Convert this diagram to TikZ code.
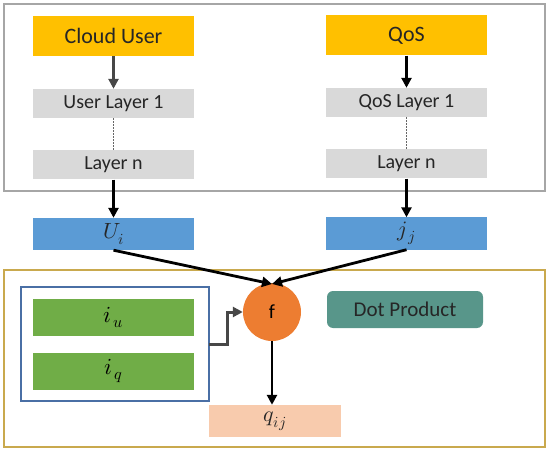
\documentclass[tikz,border=0pt]{standalone}
\usepackage{fontspec}
\usepackage{unicode-math}
\setmainfont{Carlito}
\setmathfont{Latin Modern Math}
\usetikzlibrary{arrows.meta}
\definecolor{cOrange}{HTML}{FFC000}
\definecolor{cGray}{HTML}{D9D9D9}
\definecolor{cBlue}{HTML}{5B9BD5}
\definecolor{cGreen}{HTML}{70AD47}
\definecolor{cCircle}{HTML}{ED7D31}
\definecolor{cPeach}{HTML}{F8CBAD}
\definecolor{cTeal}{RGB}{88,150,138}
\definecolor{cTopBorder}{HTML}{A6A6A6}
\definecolor{cGold}{HTML}{C9A94E}
\definecolor{cInner}{HTML}{4A6FA5}
\definecolor{cText}{HTML}{262626}
\begin{document}
\begin{tikzpicture}[x=1pt,y=-1pt,
  box/.style={minimum width=161pt,inner sep=0pt,text=cText},
  topbox/.style={box,fill=cOrange,minimum height=40pt,font=\fontsize{22}{24}\selectfont},
  layerbox/.style={box,fill=cGray,minimum height=29pt,font=\fontsize{20}{22}\selectfont},
  vecbox/.style={box,fill=cBlue,minimum height=32pt,font=\fontsize{22}{24}\selectfont},
  greenbox/.style={box,fill=cGreen,minimum height=37pt,text=black,font=\fontsize{23}{25}\selectfont},
  arr/.style={-{Triangle[length=10pt,width=10pt]},line width=2.8pt},
  darr/.style={arr,draw=cText!85!white},
  dotline/.style={line width=1.6pt,cText!70!white,dash pattern=on 1.6pt off 1.4pt}
]
\useasboundingbox (0,0) rectangle (550,452);
% outer frames
\draw[cTopBorder,line width=1.2pt] (4,4) rectangle (545,191);
\draw[cGold,line width=1.5pt] (4,270) rectangle (545,447);
\draw[cInner,line width=1.5pt] (21,287) rectangle (209,401);
\coordinate (innerR) at (209,344);
% left column
\node[topbox] (cu) at (113.5,36) {Cloud User};
\node[layerbox] (ul1) at (113.5,103.5) {User Layer 1};
\node[layerbox] (uln) at (113.5,165) {Layer n};
\node[vecbox] (ui) at (113.5,234) {$U_i$};
% right column
\node[topbox] (qos) at (406.5,35.5) {QoS};
\node[layerbox] (ql1) at (406.5,102.5) {QoS Layer 1};
\node[layerbox] (qln) at (406.5,164) {Layer n};
\node[vecbox] (jj) at (406.5,233.5) {$j_{\,j}$};
% bottom
\node[greenbox] (iu) at (113.5,317.5) {$i_{\,u}$};
\node[greenbox] (iq) at (113.5,371) {$i_{\,q}$};
\node[circle,fill=cCircle,minimum size=58pt,inner sep=0pt,text=black,font=\fontsize{20}{22}\selectfont] (f) at (272,312) {f};
\node[rounded corners=6pt,fill=cTeal,minimum width=156pt,minimum height=37pt,inner sep=0pt,text=black!85,font=\fontsize{21}{23}\selectfont] (dp) at (405,309.5) {Dot Product};
\node[box,fill=cPeach,minimum width=132pt,minimum height=32pt,text=cText,font=\fontsize{22}{24}\selectfont] (q) at (275,421) {$q_{ij}$};
\coordinate (ftop) at (272,284);
% connectors
\draw[darr] (cu) -- (ul1);
\draw[arr] (qos) -- (ql1);
\draw[dotline] (ul1) -- (uln);
\draw[dotline] (ql1) -- (qln);
\draw[arr] (uln) -- (ui);
\draw[arr] (qln) -- (jj);
\draw[arr] (ui.south) -- (ftop);
\draw[arr] (jj.south) -- (ftop);
\draw[arr] (f.south) -- (f.south |- q.north);
\draw[darr,line width=3pt] (innerR) -- (227,344) -- (227,312) -- (f.west);
\end{tikzpicture}
\end{document}
